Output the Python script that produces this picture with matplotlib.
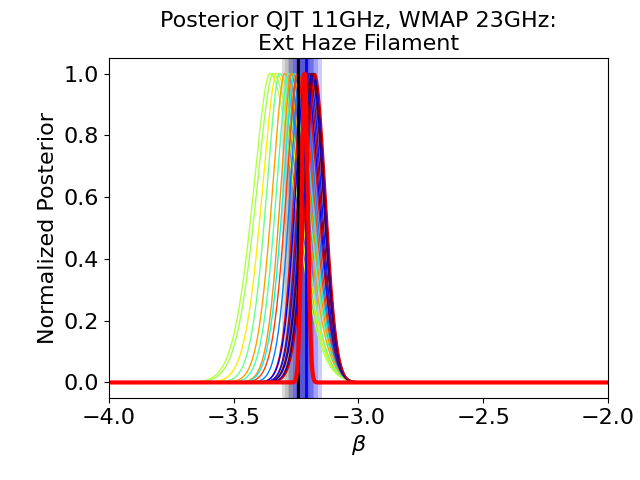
import numpy as np
import matplotlib
matplotlib.use('Agg')
import matplotlib.pyplot as plt

# picos de cada posterior (beta) y anchos izquierda / derecha
picos = [-3.356, -3.343, -3.329, -3.317, -3.297, -3.281, -3.269, -3.257, -3.245, -3.234,
         -3.222, -3.214, -3.206, -3.198, -3.190, -3.186, -3.182, -3.178, -3.174]
ancho_izq = [0.068, 0.068, 0.059, 0.053, 0.050, 0.050, 0.045, 0.047, 0.046, 0.042,
             0.038, 0.040, 0.038, 0.040, 0.040, 0.040, 0.038, 0.038, 0.038]
ancho_der = [0.100, 0.097, 0.093, 0.089, 0.084, 0.079, 0.075, 0.071, 0.067, 0.063,
             0.059, 0.056, 0.053, 0.050, 0.048, 0.047, 0.046, 0.045, 0.044]
color_jet = [0.57, 0.55, 0.66, 0.48, 0.74, 0.44, 0.76, 0.36, 0.84, 0.25,
             0.90, 0.12, 0.95, 0.15, 0.98, 0.05, 1.00, 0.08, 0.92]

# posterior combinado (rojo)
pico_total = -3.215
ancho_total = 0.012

# lineas verticales y bandas
beta_negro = -3.243
beta_azul = -3.210
bandas_gris = [(-3.306, -3.180), (-3.294, -3.195), (-3.282, -3.205)]
bandas_azul = [(-3.277, -3.145), (-3.264, -3.162), (-3.250, -3.178)]

beta = np.linspace(-4, -2, 2001)

fig, ax = plt.subplots(figsize=(6.4, 4.8), dpi=100)

for mu, sl, sr, c in zip(picos, ancho_izq, ancho_der, color_jet):
    d = beta - mu
    # cola izquierda algo mas pesada que una gaussiana
    izq = np.exp(-(np.abs(d) / (1.46 * sl)) ** 1.7)
    der = np.exp(-0.5 * (d / sr) ** 2)
    post = np.where(d < 0, izq, der)
    ax.plot(beta, post / post.max(), color=plt.cm.jet(c), lw=1)

for lo, hi in bandas_gris:
    ax.axvspan(lo, hi, color='grey', alpha=0.28, lw=0)
for lo, hi in bandas_azul:
    ax.axvspan(lo, hi, color='blue', alpha=0.2, lw=0)

ax.axvline(beta_negro, color='black', lw=2)
ax.axvline(beta_azul, color='blue', lw=2)

total = np.exp(-0.5 * ((beta - pico_total) / ancho_total) ** 2)
ax.plot(beta, total / total.max(), color='red', lw=3)

ax.set_xlim(-4, -2)
ax.set_xlabel(r'$\beta$', fontsize=16)
ax.set_ylabel('Normalized Posterior', fontsize=16)
ax.set_title('Posterior QJT 11GHz, WMAP 23GHz:\nExt Haze Filament', fontsize=16)
ax.tick_params(labelsize=16)
plt.subplots_adjust(left=0.17, right=0.95, top=0.879, bottom=0.171)
plt.savefig('out.png')
